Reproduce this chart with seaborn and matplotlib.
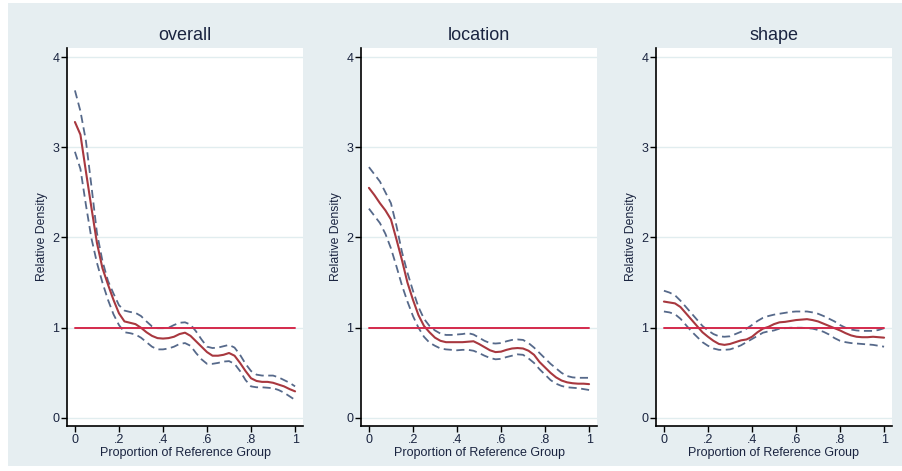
import numpy as np
import pandas as pd
import matplotlib
matplotlib.use("Agg")
import matplotlib.pyplot as plt
from matplotlib.patches import Rectangle
import seaborn as sns

# ---------------- data ----------------
x_grid = [0, 0.025, 0.05, 0.075, 0.1, 0.125, 0.15, 0.175, 0.2, 0.225, 0.25, 0.275, 0.3,
          0.325, 0.35, 0.375, 0.4, 0.425, 0.45, 0.475, 0.5, 0.525, 0.55, 0.575, 0.6,
          0.625, 0.65, 0.675, 0.7, 0.725, 0.75, 0.775, 0.8, 0.825, 0.85, 0.875, 0.9,
          0.925, 0.95, 0.975, 1.0]

panel_titles = ["overall", "location", "shape"]

overall_est = [3.28, 3.14, 2.73, 2.33, 1.94, 1.66, 1.48, 1.31, 1.16, 1.07, 1.055, 1.04, 1.00,
               0.95, 0.91, 0.885, 0.88, 0.885, 0.90, 0.93, 0.945, 0.91, 0.85, 0.79, 0.73,
               0.69, 0.69, 0.70, 0.72, 0.69, 0.61, 0.52, 0.44, 0.41, 0.40, 0.40, 0.39,
               0.37, 0.35, 0.32, 0.295]
overall_hi = [3.63, 3.40, 3.07, 2.57, 2.05, 1.74, 1.52, 1.38, 1.25, 1.19, 1.175, 1.165, 1.13,
              1.07, 1.015, 0.995, 0.995, 1.00, 1.03, 1.055, 1.06, 1.035, 0.96, 0.87, 0.79,
              0.775, 0.78, 0.795, 0.81, 0.78, 0.70, 0.60, 0.52, 0.48, 0.47, 0.47, 0.47,
              0.45, 0.42, 0.39, 0.35]
overall_lo = [2.95, 2.76, 2.36, 1.99, 1.72, 1.50, 1.31, 1.15, 1.03, 0.95, 0.94, 0.925, 0.89,
              0.84, 0.79, 0.76, 0.76, 0.77, 0.79, 0.82, 0.83, 0.80, 0.72, 0.65, 0.60,
              0.60, 0.61, 0.625, 0.63, 0.60, 0.52, 0.42, 0.35, 0.34, 0.34, 0.335, 0.33,
              0.31, 0.28, 0.24, 0.20]

location_est = [2.55, 2.47, 2.38, 2.30, 2.20, 1.98, 1.75, 1.50, 1.31, 1.14, 1.02, 0.95, 0.89,
                0.855, 0.84, 0.84, 0.84, 0.84, 0.845, 0.85, 0.82, 0.785, 0.75, 0.73, 0.735,
                0.755, 0.77, 0.775, 0.77, 0.745, 0.70, 0.62, 0.56, 0.50, 0.45, 0.415, 0.395,
                0.385, 0.38, 0.38, 0.375]
location_hi = [2.78, 2.70, 2.62, 2.50, 2.38, 2.13, 1.84, 1.61, 1.41, 1.23, 1.10, 1.02, 0.97,
               0.935, 0.92, 0.92, 0.925, 0.93, 0.94, 0.925, 0.89, 0.855, 0.83, 0.825, 0.83,
               0.85, 0.865, 0.87, 0.865, 0.83, 0.78, 0.72, 0.66, 0.60, 0.55, 0.50, 0.465,
               0.45, 0.445, 0.445, 0.445]
location_lo = [2.32, 2.24, 2.16, 2.04, 1.88, 1.68, 1.47, 1.29, 1.13, 1.00, 0.90, 0.835, 0.80,
               0.77, 0.76, 0.755, 0.75, 0.755, 0.755, 0.745, 0.72, 0.69, 0.665, 0.65, 0.655,
               0.675, 0.69, 0.705, 0.70, 0.66, 0.61, 0.54, 0.48, 0.42, 0.38, 0.355, 0.34,
               0.335, 0.33, 0.32, 0.31]

shape_est = [1.29, 1.28, 1.27, 1.23, 1.16, 1.09, 1.02, 0.95, 0.90, 0.855, 0.82, 0.81, 0.82,
             0.84, 0.86, 0.87, 0.90, 0.95, 0.99, 1.01, 1.04, 1.06, 1.065, 1.075, 1.085,
             1.09, 1.095, 1.085, 1.07, 1.045, 1.02, 0.995, 0.97, 0.94, 0.915, 0.90, 0.895,
             0.895, 0.90, 0.895, 0.89]
shape_hi = [1.41, 1.39, 1.36, 1.30, 1.23, 1.16, 1.09, 1.02, 0.97, 0.93, 0.905, 0.90, 0.905,
            0.93, 0.955, 0.99, 1.03, 1.075, 1.11, 1.13, 1.145, 1.155, 1.165, 1.175, 1.18,
            1.18, 1.18, 1.17, 1.155, 1.13, 1.10, 1.07, 1.03, 1.00, 0.98, 0.97, 0.965,
            0.965, 0.965, 0.975, 0.995]
shape_lo = [1.18, 1.17, 1.15, 1.10, 1.03, 0.96, 0.90, 0.84, 0.80, 0.77, 0.755, 0.755, 0.76,
            0.78, 0.805, 0.84, 0.875, 0.91, 0.945, 0.96, 0.97, 0.99, 0.995, 1.00, 1.00,
            1.00, 0.995, 0.99, 0.975, 0.955, 0.925, 0.885, 0.855, 0.84, 0.83, 0.825, 0.82,
            0.815, 0.81, 0.80, 0.79]

ref_x = [0, 1]
ref_y = [1, 1]

y_ticks = [0, 1, 2, 3, 4]
x_ticks = [0, 0.2, 0.4, 0.6, 0.8, 1.0]
x_tick_labels = ["0", ".2", ".4", ".6", ".8", "1"]

# ---------------- style ----------------
sns.set_style("white")
plt.rcParams["font.family"] = ["Liberation Sans", "DejaVu Sans"]

BG = "#e6eef1"
GRID = "#e1edef"
RED = "#a8383f"
BAND = "#56698a"
REF = "#d42a4c"
TXT = "#1a2440"

W, H = 902, 471
fig = plt.figure(figsize=(W / 100, H / 100), dpi=100, facecolor="white")
fig.patches.append(Rectangle((8 / W, 1 - 466 / H), (W - 8) / W, (466 - 3) / H,
                             transform=fig.transFigure, facecolor=BG, edgecolor="none",
                             zorder=-10))

panels = [
    (overall_est, overall_hi, overall_lo),
    (location_est, location_hi, location_lo),
    (shape_est, shape_hi, shape_lo),
]
lefts = [67, 361, 656]
ax_w = 236
top_px, bot_px = 48, 426

for i, (title, (est, hi, lo)) in enumerate(zip(panel_titles, panels)):
    ax = fig.add_axes([lefts[i] / W, 1 - bot_px / H, ax_w / W, (bot_px - top_px) / H])
    ax.set_facecolor("white")
    for yv in y_ticks:
        ax.axhline(yv, color=GRID, lw=1.0, zorder=0)
    df = pd.DataFrame({"x": x_grid, "est": est, "hi": hi, "lo": lo})
    sns.lineplot(data=df, x="x", y="hi", ax=ax, color=BAND, lw=1.3,
                 linestyle=(0, (4.5, 2.5)), estimator=None, sort=False)
    sns.lineplot(data=df, x="x", y="lo", ax=ax, color=BAND, lw=1.3,
                 linestyle=(0, (4.5, 2.5)), estimator=None, sort=False)
    sns.lineplot(data=df, x="x", y="est", ax=ax, color=RED, lw=1.5,
                 estimator=None, sort=False)
    sns.lineplot(x=ref_x, y=ref_y, ax=ax, color=REF, lw=1.4, estimator=None)

    ax.set_xlim(-0.036, 1.036)
    ax.set_ylim(-0.089, 4.1)
    ax.set_xticks(x_ticks)
    ax.set_xticklabels(x_tick_labels)
    ax.set_yticks(y_ticks)
    ax.set_yticklabels([str(v) for v in y_ticks])
    ax.tick_params(axis="both", direction="out", length=4, width=1.0, color="black",
                   labelsize=9, labelcolor=TXT, pad=1.5, left=True, bottom=True)
    for s in ["top", "right"]:
        ax.spines[s].set_visible(False)
    for s in ["left", "bottom"]:
        ax.spines[s].set_color("black")
        ax.spines[s].set_linewidth(1.2)
    ax.set_xlabel("Proportion of Reference Group", fontsize=9, color=TXT, labelpad=1)
    ax.set_ylabel("Relative Density", fontsize=8.8, color=TXT, labelpad=3)
    ax.set_title(title, fontsize=13, color=TXT, pad=6)

fig.savefig("out.png", dpi=100, facecolor="white")
